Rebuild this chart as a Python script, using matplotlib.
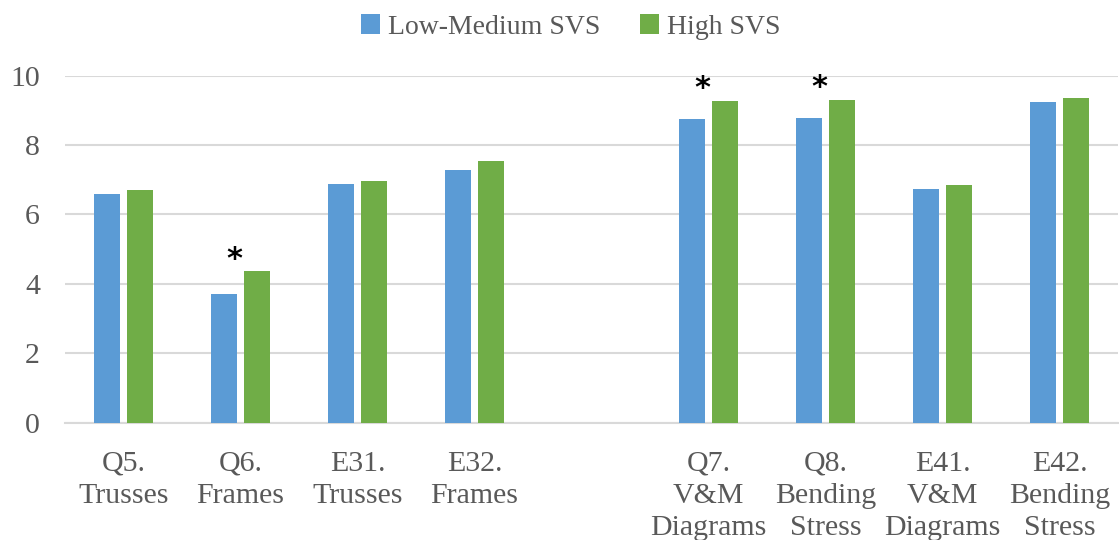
import numpy as np
import matplotlib
matplotlib.use("Agg")
import matplotlib.pyplot as plt

# chart data (empty slot in the middle separates the two groups)
categories = ["Q5.\nTrusses", "Q6.\nFrames", "E31.\nTrusses", "E32.\nFrames", "",
              "Q7.\nV&M\nDiagrams", "Q8.\nBending\nStress", "E41.\nV&M\nDiagrams",
              "E42.\nBending\nStress"]
low_medium = [6.58, 3.71, 6.87, 7.28, np.nan, 8.76, 8.77, 6.73, 9.23]
high = [6.70, 4.36, 6.96, 7.54, np.nan, 9.28, 9.31, 6.84, 9.35]
significant = [False, True, False, False, False, True, True, False, False]
series_names = ["Low-Medium SVS", "High SVS"]

plt.rcParams["font.family"] = ["Liberation Serif", "DejaVu Serif"]
text_color = "#595959"
blue = "#5b9bd5"
green = "#70ad47"

fig = plt.figure(figsize=(11.19, 5.4), dpi=100)
ax = fig.add_axes([65 / 1119, 0.217, 1053 / 1119, 0.643])

x = np.arange(len(categories))
bar_w = 0.222
offset = 0.143
ax.bar(x - offset, low_medium, width=bar_w, color=blue, label=series_names[0], zorder=3)
ax.bar(x + offset, high, width=bar_w, color=green, label=series_names[1], zorder=3)

# significance markers
for i, sig in enumerate(significant):
    if sig:
        ax.text(x[i] - 0.05, high[i] - 0.08, "*", ha="center", va="bottom",
                fontsize=22, color="black", fontweight="bold", family="DejaVu Sans")

ax.set_xlim(-0.5, len(categories) - 0.5)
ax.set_ylim(0, 10)
ax.set_yticks(np.arange(0, 11, 2))
ax.yaxis.grid(True, color="#d9d9d9", linewidth=1.5, zorder=0)
ax.set_axisbelow(True)
for s in ["top", "right", "left"]:
    ax.spines[s].set_visible(False)
ax.spines["bottom"].set_color("#d9d9d9")
ax.spines["bottom"].set_linewidth(1.5)

ax.set_xticks(x)
ax.set_xticklabels(categories, linespacing=1.3)
ax.tick_params(axis="both", length=0, labelsize=21.5, labelcolor=text_color)
ax.tick_params(axis="x", pad=20)
ax.tick_params(axis="y", pad=18)

fig.legend(loc="upper center", bbox_to_anchor=(0.51, 1.02), ncol=2, frameon=False,
           fontsize=20, labelcolor=text_color, handlelength=0.7, handleheight=0.7,
           handletextpad=0.3, columnspacing=1.4)

fig.savefig("out.png", dpi=100)
